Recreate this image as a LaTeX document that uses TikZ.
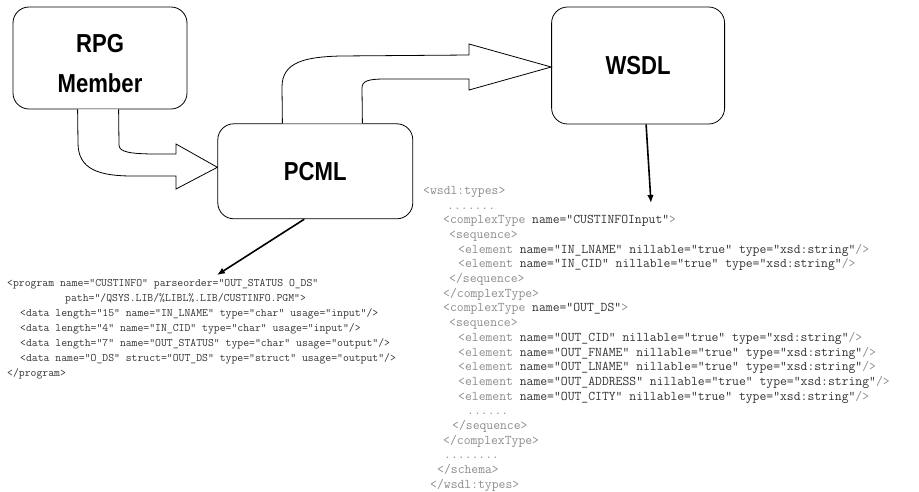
\documentclass[tikz,border=0pt]{standalone}
\usepackage{fontspec}
\setmainfont{Liberation Sans}
\newfontfamily\boxfont[FakeStretch=0.85]{Liberation Sans}
\usetikzlibrary{arrows.meta, positioning, calc}
\newcommand{\tg}[1]{\textcolor{black!45}{#1}}

\begin{document}
\begin{tikzpicture}[
    x=1pt, y=-1pt,
    stage/.style={
        rectangle, rounded corners=16pt, draw=black, line width=0.8pt,
        fill=white, align=center,
        font=\boxfont\bfseries\fontsize{26}{40}\selectfont
    },
    blockarrow/.style={draw=black, line width=0.8pt, fill=white},
    arrow/.style={-{Latex[length=8pt, width=6.5pt]}, line width=1.6pt},
    code/.style={anchor=north west, inner sep=0pt, align=left, text=black!80}
]
\useasboundingbox (0,0) rectangle (919,491);

% Boxes
\node[stage, minimum width=174pt, minimum height=102pt, text height=68pt, text depth=0pt] (rpg) at (100,58) {RPG\\Member};
\node[stage, minimum width=195pt, minimum height=95pt, below right=14pt and 30pt of rpg] (pcml) {PCML};
\node[stage, minimum width=173pt, minimum height=117pt, above right=-1pt and 138pt of pcml] (wsdl) {WSDL};

% Block arrows
\draw[blockarrow] ([xshift=65pt]rpg.south west) -- (78,143)
    .. controls (78,170) and (100,176) .. (133,176) -- (176,176) -- (176,189)
    -- ([yshift=4pt]pcml.west) -- (176,144) -- (176,154) -- (157,154)
    .. controls (130,154) and (119,152) .. (119,145) -- ([xshift=106pt]rpg.south west);
\draw[blockarrow] ([xshift=65pt]pcml.north west) -- (282,87)
    .. controls (282,62) and (305,57) .. (340,56) -- (469,55) -- (469,44)
    -- ([yshift=-1.5pt]wsdl.west) -- (469,90) -- (469,79) -- (385,79)
    .. controls (368,79) and (362,81) .. (362,88) -- ([xshift=145pt]pcml.north west);

% PCML source
\node[code, font=\ttfamily\fontsize{11.4}{15}\selectfont] (prog) at (7,279) {%
<program name="CUSTINFO" parseorder="OUT\_STATUS O\_DS"\\
\hspace*{58pt}path="/QSYS.LIB/\%LIBL\%.LIB/CUSTINFO.PGM">\\
\hspace*{13pt}<data length="15" name="IN\_LNAME" type="char" usage="input"/>\\
\hspace*{13pt}<data length="4" name="IN\_CID" type="char" usage="input"/>\\
\hspace*{13pt}<data length="7" name="OUT\_STATUS" type="char" usage="output"/>\\
\hspace*{13pt}<data name="O\_DS" struct="OUT\_DS" type="struct" usage="output"/>\\
</program>};

% WSDL types
\node[code, font=\ttfamily\fontsize{13.3}{14.7}\selectfont] (types) at (423,186) {%
\tg{<wsdl:types>}\\
\hspace*{24pt}\tg{.......}\\
\hspace*{20pt}\tg{<complexType} name="CUSTINFOInput"\tg{>}\\
\hspace*{26pt}\tg{<sequence>}\\
\hspace*{35pt}\tg{<element} name="IN\_LNAME" nillable="true" type="xsd:string"\tg{/>}\\
\hspace*{35pt}\tg{<element} name="IN\_CID" nillable="true" type="xsd:string"\tg{/>}\\
\hspace*{26pt}\tg{</sequence>}\\
\hspace*{20pt}\tg{</complexType>}\\
\hspace*{20pt}\tg{<complexType} name="OUT\_DS"\tg{>}\\
\hspace*{26pt}\tg{<sequence>}\\
\hspace*{35pt}\tg{<element} name="OUT\_CID" nillable="true" type="xsd:string"\tg{/>}\\
\hspace*{35pt}\tg{<element} name="OUT\_FNAME" nillable="true" type="xsd:string"\tg{/>}\\
\hspace*{35pt}\tg{<element} name="OUT\_LNAME" nillable="true" type="xsd:string"\tg{/>}\\
\hspace*{35pt}\tg{<element} name="OUT\_ADDRESS" nillable="true" type="xsd:string"\tg{/>}\\
\hspace*{35pt}\tg{<element} name="OUT\_CITY" nillable="true" type="xsd:string"\tg{/>}\\
\hspace*{44pt}\tg{......}\\
\hspace*{29pt}\tg{</sequence>}\\
\hspace*{20pt}\tg{</complexType>}\\
\hspace*{21pt}\tg{........}\\
\hspace*{14pt}\tg{</schema>}\\
\hspace*{7pt}\tg{</wsdl:types>}};

% Arrows
\draw[arrow] ([xshift=-11pt]pcml.south) -- ([xshift=210pt, yshift=4pt]prog.north west);
\draw[arrow] ([xshift=8pt]wsdl.south) -- ([xshift=228pt, yshift=-17pt]types.north west);

\end{tikzpicture}
\end{document}
